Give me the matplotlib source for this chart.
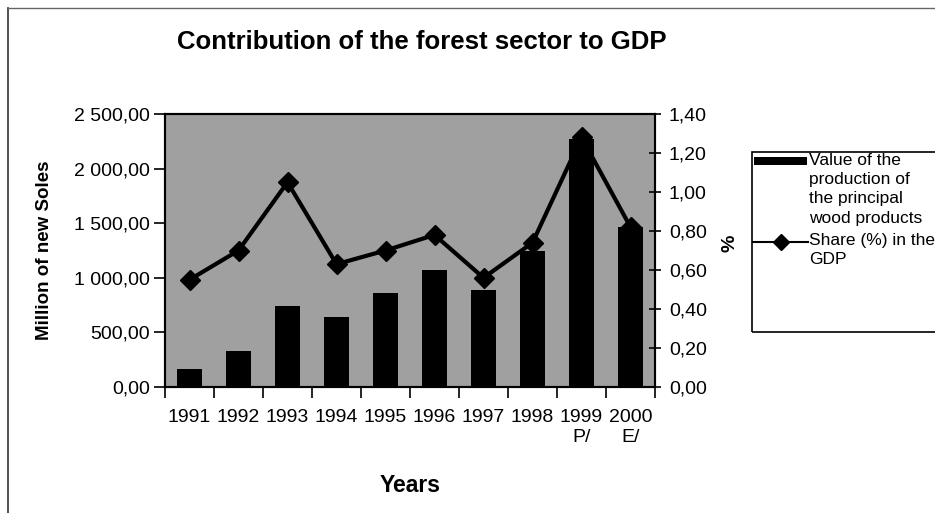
import numpy as np
import matplotlib.pyplot as plt
from matplotlib.ticker import FuncFormatter, FixedLocator
from matplotlib.patches import Rectangle
from matplotlib.lines import Line2D

plt.rcParams['font.family'] = ['Liberation Sans', 'DejaVu Sans']

# data
years = ["1991", "1992", "1993", "1994", "1995", "1996", "1997", "1998", "1999\nP/", "2000\nE/"]
production = [164, 333, 740, 642, 861, 1068, 886, 1245, 2270, 1466]   # million of new Soles
gdp_share = [0.55, 0.70, 1.05, 0.63, 0.70, 0.78, 0.56, 0.74, 1.28, 0.82]  # %
legend_labels = ["Value of the\nproduction of\nthe principal\nwood products",
                 "Share (%) in the\nGDP"]

W, H = 935, 513


def fx(px):
    return px / W


def fy(py):
    return 1 - py / H


def comma_fmt(v, pos=None):
    return f"{v:,.2f}".replace(",", " ").replace(".", ",")


fig = plt.figure(figsize=(W / 100, H / 100), dpi=100)

# plot area in pixels: left 165, right 655, top 114, bottom 387
ax = fig.add_axes([fx(165), fy(387), (655 - 165) / W, (387 - 114) / H])
ax.set_facecolor("#a0a0a0")

x = np.arange(len(years))
ax.bar(x, production, width=0.49, color="black", zorder=2)
ax.set_xlim(-0.5, len(years) - 0.5)
ax.set_ylim(0, 2500)
ax.yaxis.set_major_locator(FixedLocator(np.arange(0, 2501, 500)))
ax.yaxis.set_major_formatter(FuncFormatter(comma_fmt))

ax.set_xticks(x)
ax.set_xticklabels(years, fontsize=14, linespacing=1.25)
ax.tick_params(axis="x", length=0, pad=16)
ax.set_xticks(np.arange(-0.5, len(years)), minor=True)
ax.tick_params(axis="x", which="minor", length=8, direction="out", width=1.2)
ax.tick_params(axis="y", labelsize=14, length=8, direction="out", width=1.2, pad=3)

ax2 = ax.twinx()
ax2.plot(x, gdp_share, color="black", lw=3, marker="D", markersize=10, zorder=3)
ax2.set_ylim(0, 1.40)
ax2.yaxis.set_major_locator(FixedLocator(np.arange(0, 1.41, 0.2)))
ax2.yaxis.set_major_formatter(FuncFormatter(lambda v, p: f"{v:.2f}".replace(".", ",")))
ax2.tick_params(axis="y", labelsize=14, length=8, direction="inout", width=1.2, pad=6)

for a in (ax, ax2):
    for sp in a.spines.values():
        sp.set_linewidth(1.5)

fig.text(fx(45), fy(250), "Million of new Soles", rotation=90, ha="center", va="center",
         fontsize=13.5, fontweight="bold")
fig.text(fx(730), fy(243), "%", rotation=90, ha="center", va="center",
         fontsize=14, fontweight="bold")
fig.text(fx(410), fy(486), "Years", ha="center", va="center",
         fontsize=16.5, fontweight="bold")
fig.text(fx(422), fy(42), "Contribution of the forest sector to GDP",
         ha="center", va="center", fontsize=18.5, fontweight="bold")

# outer chart border (partly visible)
fig.add_artist(Line2D([fx(8), fx(8)], [0, fy(8)], color="#333333", lw=1.2))
fig.add_artist(Line2D([fx(8), 1], [fy(8), fy(8)], color="#666666", lw=1))

# legend, drawn the way the spreadsheet lays it out
fig.add_artist(Rectangle((fx(752), fy(332)), (960 - 752) / W, (332 - 152) / H,
                         transform=fig.transFigure, fill=False, edgecolor="black", lw=1.2))
fig.add_artist(Rectangle((fx(754), fy(165)), (807 - 754) / W, 8 / H,
                         transform=fig.transFigure, facecolor="black", edgecolor="none"))
fig.add_artist(Line2D([fx(753), fx(808)], [fy(242), fy(242)], color="black", lw=1.5,
                      transform=fig.transFigure))
fig.add_artist(Line2D([fx(781)], [fy(242)], color="black", marker="D", markersize=8,
                      transform=fig.transFigure))
fig.text(fx(809), fy(153), legend_labels[0], ha="left", va="top", fontsize=12.5,
         linespacing=1.35)
fig.text(fx(809), fy(233), legend_labels[1], ha="left", va="top", fontsize=12.5,
         linespacing=1.35)

fig.savefig("out.png", dpi=100)
